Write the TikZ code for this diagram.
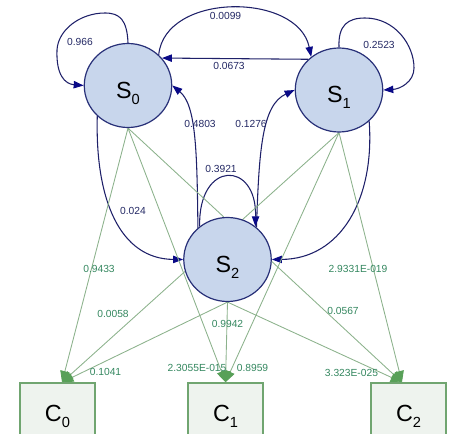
\documentclass[tikz,border=0pt]{standalone}
\usepackage{fontspec}
\setmainfont{Liberation Sans}
\usetikzlibrary{arrows.meta,shapes.geometric}
\pgfdeclarelayer{bg}
\pgfsetlayers{bg,main}
\definecolor{sfill}{RGB}{200,214,236}
\definecolor{sline}{RGB}{40,48,120}
\definecolor{navyedge}{RGB}{30,32,105}
\definecolor{navytip}{RGB}{10,10,135}
\definecolor{cfill}{RGB}{238,243,238}
\definecolor{cline}{RGB}{112,165,112}
\definecolor{gedge}{RGB}{140,178,140}
\definecolor{gtip}{RGB}{88,160,88}
\definecolor{glabel}{RGB}{52,135,95}
\definecolor{nlabel}{RGB}{35,40,100}
\newcommand{\lowsub}[1]{\raisebox{-4.5pt}{\fontsize{11}{11}\selectfont #1}}
\begin{document}
\begin{tikzpicture}[x=0.75pt,y=-0.75pt,
  state/.style={ellipse, draw=sline, fill=sfill, line width=0.9pt, minimum width=65.6pt, minimum height=63pt, inner sep=0pt, text height=18.8pt, text depth=0pt, font=\fontsize{17.5}{17.5}\selectfont},
  obs/.style={rectangle, draw=cline, fill=cfill, line width=1.1pt, minimum width=56.25pt, minimum height=40.5pt, inner sep=0pt, text height=16.5pt, text depth=0pt, font=\fontsize{17.5}{17.5}\selectfont},
  tr/.style={draw=navyedge, line width=0.8pt, -{Triangle[length=7.5pt,width=5.5pt,color=navytip]}},
  em/.style={draw=gedge, line width=0.65pt, -{Triangle[length=8.5pt,width=7pt,color=gtip]}},
  tl/.style={font=\fontsize{7.7}{8}\selectfont, text=nlabel, inner sep=0pt},
  el/.style={font=\fontsize{7.7}{8}\selectfont, text=glabel, inner sep=0pt}]
\useasboundingbox (0,0) rectangle (452,434);
\clip (0,0) rectangle (452,434);

\node[state] (S0) at (128,85.5) {S\lowsub{0}};
\node[state] (S1) at (339,90) {S\lowsub{1}};
\node[state] (S2) at (227.5,259.5) {S\lowsub{2}};
\node[obs] (C0) at (57.5,410) {C\lowsub{0}};
\node[obs] (C1) at (225.5,410) {C\lowsub{1}};
\node[obs] (C2) at (408.5,410) {C\lowsub{2}};

\begin{pgfonlayer}{bg}
% transitions
\draw[tr] (S0.north) .. controls (127,20) and (120,13) .. (105,13)
  .. controls (80,13) and (58,30) .. (57,50)
  .. controls (56,75) and (65,84) .. (S0.west);
\draw[tr] (S1.north) .. controls (338,25) and (348,18) .. (365,18)
  .. controls (395,18) and (414,45) .. (414,68)
  .. controls (414,82) and (400,89) .. (S1.east);
\draw[tr] (S0.45) .. controls (165,-8) and (298,-8) .. (S1.130);
\draw[tr] (S1.135) -- (S0.39);
\draw[tr] (S2.133) .. controls (197,150) and (196,105) .. (S0.east);
\draw[tr] (S2.48) .. controls (259,150) and (262,105) .. (S1.west);
\draw[tr] (S2.130) .. controls (198,160) and (257,160) .. (S2.50);
\draw[tr] (S0.225) .. controls (95,200) and (120,259) .. (S2.west);
\draw[tr] (S1.-46) .. controls (375,200) and (340,259) .. (S2.east);
% emissions
\draw[em] (S0.south) -- ([xshift=3.4pt]C0.north);
\draw[em] (S0.south) -- (C1.north);
\draw[em] (S0.south) -- ([xshift=-4.9pt]C2.north);
\draw[em] (S1.south) -- ([xshift=3.4pt]C0.north);
\draw[em] (S1.south) -- (C1.north);
\draw[em] (S1.south) -- ([xshift=-4.9pt]C2.north);
\draw[em] (S2.south) -- ([xshift=3.4pt]C0.north);
\draw[em] (S2.south) -- (C1.north);
\draw[em] (S2.south) -- ([xshift=-4.9pt]C2.north);
\end{pgfonlayer}

% transition labels
\node[tl] (l1) at (80,42) {0.966};
\node[tl] (l2) at (225.5,16) {0.0099};
\node[tl] (l3) at (229,66) {0.0673};
\node[tl] (l4) at (379,45) {0.2523};
\node[tl] (l5) at (200,124) {0.4803};
\node[tl] (l6) at (251,124) {0.1276};
\node[tl] (l7) at (221,169) {0.3921};
\node[tl] (l8) at (133,211) {0.024};
% emission labels
\node[el] (e1) at (99,269) {0.9433};
\node[el] (e2) at (113,314) {0.0058};
\node[el] (e3) at (105.5,372) {0.1041};
\node[el] (e4) at (197,368) {2.3055E-015};
\node[el] (e5) at (252.5,368) {0.8959};
\node[el] (e6) at (227.5,324) {0.9942};
\node[el] (e7) at (358,269) {2.9331E-019};
\node[el] (e8) at (343,311) {0.0567};
\node[el] (e9) at (351.5,373) {3.323E-025};
\end{tikzpicture}
\end{document}
